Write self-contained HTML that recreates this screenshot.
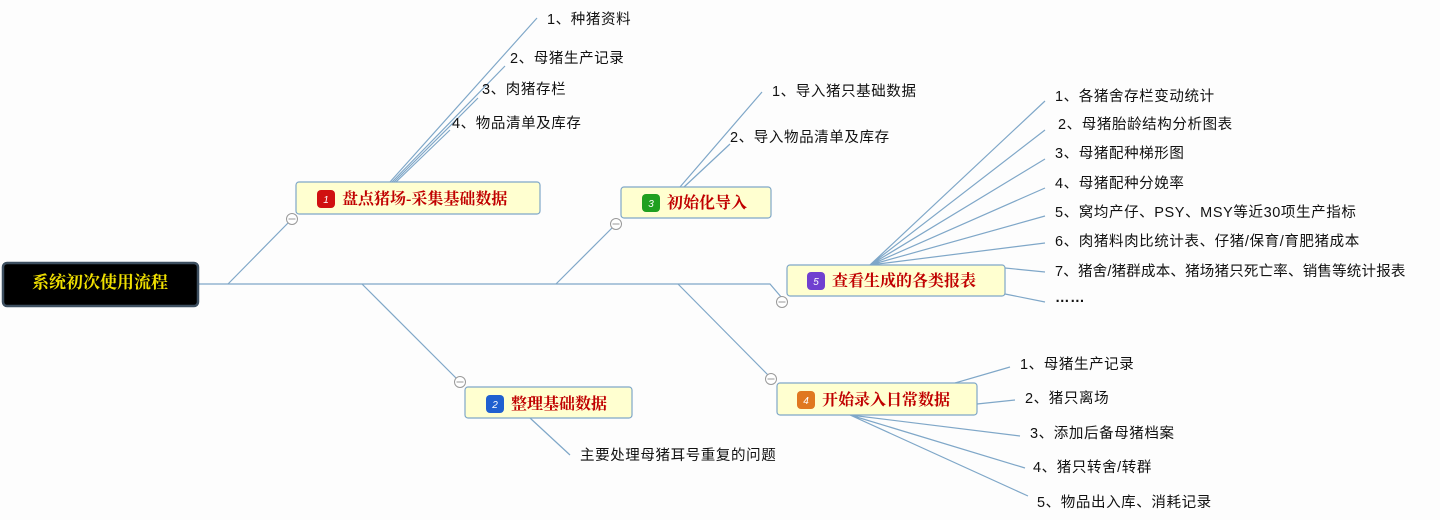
<!DOCTYPE html>
<html><head><meta charset="utf-8"><style>
body{margin:0;background:#fdfdfd;}
svg{display:block}
.t{font-family:"Liberation Sans","Noto Sans CJK SC",sans-serif;font-size:14.5px;letter-spacing:0.6px;fill:#111}
.n{font-family:"Liberation Serif","Noto Serif CJK SC",serif;font-size:16px;font-weight:bold;fill:#c00000}
.b{font-family:"Liberation Sans",sans-serif;font-size:10px;fill:#fff;font-style:italic}
</style></head><body>
<svg width="1440" height="520" xmlns="http://www.w3.org/2000/svg">
<rect width="1440" height="520" fill="#fdfdfd"/>
<g stroke="#7fa7c8" stroke-width="1.2" fill="none">
<path d="M198 284 H770 L782 298"/>
<path d="M228 284 L288 223"/>
<path d="M556 284 L612 228"/>
<path d="M362 284 L456 378"/>
<path d="M678 284 L768 375"/>
<path d="M390 182 L537 18 M392 182 L505 66 M394 182 L478 98 M396 182 L450 130"/>
<path d="M680 187 L762 92 M684 187 L730 144"/>
<path d="M530 418 L570 455"/>
<path d="M955 383 L1010 367 M977 404 L1015 400 M850 415 L1020 436 M850 415 L1025 468 M850 415 L1028 496"/>
<path d="M870 265 L1045 101 M870 265 L1045 130 M870 265 L1045 159 M870 265 L1045 188 M870 265 L1045 216 M870 265 L1045 243 M1005 268 L1045 272 M1005 294 L1045 302"/>
</g>
<g fill="#fff" stroke="#999" stroke-width="1">
<circle cx="292" cy="219" r="5.5"/><circle cx="616" cy="224" r="5.5"/><circle cx="460" cy="382" r="5.5"/><circle cx="771" cy="379" r="5.5"/><circle cx="782" cy="302" r="5.5"/>
</g>
<g stroke="#999" stroke-width="1"><path d="M288.5 219h7M612.5 224h7M456.5 382h7M767.5 379h7M778.5 302h7"/></g>
<rect x="3" y="263" width="195" height="43" rx="4" fill="#000" stroke="#3d4f60" stroke-width="2.5"/>
<text x="100" y="288" text-anchor="middle" style="font-family:'Liberation Serif','Noto Serif CJK SC',serif;font-size:17px;font-weight:bold;fill:#f0e000">系统初次使用流程</text>
<g fill="#ffffd0" stroke="#7fa7c8" stroke-width="1.2">
<rect x="296" y="182" width="244" height="32" rx="3"/>
<rect x="621" y="187" width="150" height="31" rx="3"/>
<rect x="465" y="387" width="167" height="31" rx="3"/>
<rect x="777" y="383" width="200" height="32" rx="3"/>
<rect x="787" y="265" width="218" height="31" rx="3"/>
</g>
<rect x="317" y="190" width="18" height="18" rx="4" fill="#d01010"/><text class="b" x="326" y="203" text-anchor="middle">1</text>
<text class="n" x="342" y="204">盘点猪场-采集基础数据</text>
<rect x="642" y="194" width="18" height="18" rx="4" fill="#20a020"/><text class="b" x="651" y="207" text-anchor="middle">3</text>
<text class="n" x="667" y="208">初始化导入</text>
<rect x="486" y="395" width="18" height="18" rx="4" fill="#2060d0"/><text class="b" x="495" y="408" text-anchor="middle">2</text>
<text class="n" x="511" y="409">整理基础数据</text>
<rect x="797" y="391" width="18" height="18" rx="4" fill="#e07820"/><text class="b" x="806" y="404" text-anchor="middle">4</text>
<text class="n" x="822" y="405">开始录入日常数据</text>
<rect x="807" y="272" width="18" height="18" rx="4" fill="#7040d0"/><text class="b" x="816" y="285" text-anchor="middle">5</text>
<text class="n" x="832" y="286">查看生成的各类报表</text>
<g class="t">
<text x="547" y="24">1、种猪资料</text>
<text x="510" y="63">2、母猪生产记录</text>
<text x="482" y="94">3、肉猪存栏</text>
<text x="452" y="128">4、物品清单及库存</text>
<text x="772" y="96">1、导入猪只基础数据</text>
<text x="730" y="142">2、导入物品清单及库存</text>
<text x="580" y="460">主要处理母猪耳号重复的问题</text>
<text x="1020" y="369">1、母猪生产记录</text>
<text x="1025" y="403">2、猪只离场</text>
<text x="1030" y="438">3、添加后备母猪档案</text>
<text x="1033" y="472">4、猪只转舍/转群</text>
<text x="1037" y="507">5、物品出入库、消耗记录</text>
<text x="1055" y="101">1、各猪舍存栏变动统计</text>
<text x="1058" y="129">2、母猪胎龄结构分析图表</text>
<text x="1055" y="158">3、母猪配种梯形图</text>
<text x="1055" y="188">4、母猪配种分娩率</text>
<text x="1055" y="217">5、窝均产仔、PSY、MSY等近30项生产指标</text>
<text x="1055" y="246">6、肉猪料肉比统计表、仔猪/保育/育肥猪成本</text>
<text x="1055" y="276" style="letter-spacing:0.2px">7、猪舍/猪群成本、猪场猪只死亡率、销售等统计报表</text>
<text x="1055" y="302" style="font-weight:bold">……</text>
</g>
</svg>
</body></html>
